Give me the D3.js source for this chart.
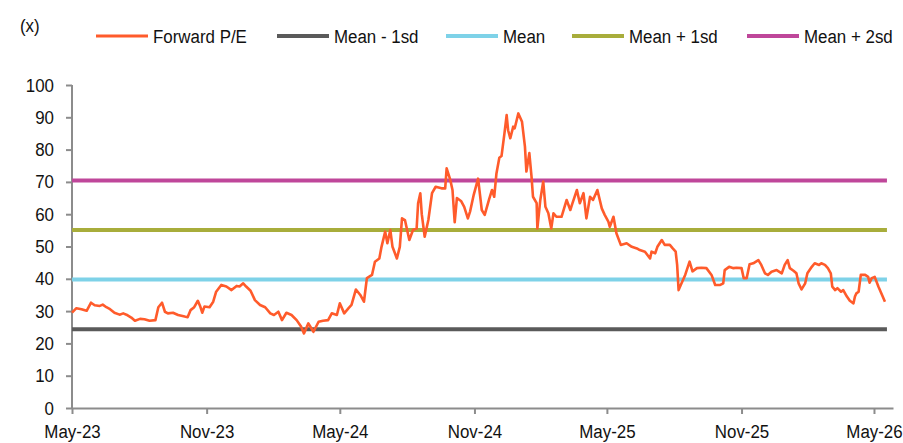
<!DOCTYPE html>
<html>
<head>
<meta charset="utf-8">
<script src="https://cdn.jsdelivr.net/npm/d3@7"></script>
<style>
  html, body { margin: 0; padding: 0; background: #fff; }
  svg { display: block; font-family: "Liberation Sans", Arial, sans-serif; }
</style>
</head>
<body>
<svg id="chart" width="903" height="443"></svg>
<script>
// Forward P/E history
const dates = [
  "2023-05-01","2023-05-07","2023-05-14","2023-05-21","2023-05-27","2023-06-01","2023-06-08","2023-06-12","2023-06-17","2023-06-22",
  "2023-06-28","2023-07-05","2023-07-10","2023-07-16","2023-07-21","2023-07-26","2023-08-02","2023-08-08","2023-08-15","2023-08-23",
  "2023-08-27","2023-09-01","2023-09-05","2023-09-09","2023-09-16","2023-09-23","2023-10-02","2023-10-06","2023-10-10","2023-10-15",
  "2023-10-20","2023-10-23","2023-10-26","2023-10-29","2023-11-05","2023-11-10","2023-11-14","2023-11-21","2023-11-28","2023-12-05",
  "2023-12-12","2023-12-16","2023-12-21","2023-12-25","2023-12-31","2024-01-06","2024-01-13","2024-01-20","2024-01-27","2024-02-01",
  "2024-02-07","2024-02-12","2024-02-18","2024-02-25","2024-03-03","2024-03-09","2024-03-13","2024-03-19","2024-03-26","2024-04-02",
  "2024-04-08","2024-04-15","2024-04-20","2024-04-27","2024-05-01","2024-05-07","2024-05-13","2024-05-17","2024-05-23","2024-05-29",
  "2024-06-03","2024-06-07","2024-06-14","2024-06-18","2024-06-24","2024-06-27","2024-07-02","2024-07-05","2024-07-09","2024-07-12",
  "2024-07-18","2024-07-22","2024-07-25","2024-07-29","2024-08-04","2024-08-09","2024-08-14","2024-08-16","2024-08-19","2024-08-21",
  "2024-08-25","2024-08-30","2024-09-04","2024-09-09","2024-09-17","2024-09-22","2024-09-24","2024-09-29","2024-10-02","2024-10-05",
  "2024-10-08","2024-10-14","2024-10-18","2024-10-23","2024-10-26","2024-10-31","2024-11-06","2024-11-11","2024-11-15","2024-11-21",
  "2024-11-25","2024-11-28","2024-12-01","2024-12-05","2024-12-08","2024-12-12","2024-12-15","2024-12-17","2024-12-20","2024-12-24",
  "2024-12-26","2024-12-31","2025-01-05","2025-01-09","2025-01-11","2025-01-15","2025-01-18","2025-01-20","2025-01-25","2025-01-26",
  "2025-01-30","2025-02-03","2025-02-06","2025-02-10","2025-02-14","2025-02-17","2025-02-21","2025-02-28","2025-03-07","2025-03-12",
  "2025-03-15","2025-03-21","2025-03-25","2025-03-30","2025-04-03","2025-04-08","2025-04-12","2025-04-18","2025-04-24","2025-04-28",
  "2025-05-03","2025-05-05","2025-05-10","2025-05-14","2025-05-20","2025-05-28","2025-06-04","2025-06-11","2025-06-15","2025-06-22",
  "2025-06-29","2025-07-01","2025-07-06","2025-07-09","2025-07-15","2025-07-19","2025-07-26","2025-07-30","2025-08-03","2025-08-05",
  "2025-08-07","2025-08-11","2025-08-16","2025-08-22","2025-08-26","2025-09-01","2025-09-07","2025-09-14","2025-09-21","2025-09-26",
  "2025-10-03","2025-10-07","2025-10-09","2025-10-15","2025-10-21","2025-10-25","2025-11-01","2025-11-04","2025-11-08","2025-11-12",
  "2025-11-17","2025-11-24","2025-11-28","2025-12-03","2025-12-07","2025-12-12","2025-12-19","2025-12-26","2025-12-30","2026-01-03",
  "2026-01-06","2026-01-11","2026-01-15","2026-01-18","2026-01-22","2026-01-27","2026-01-30","2026-02-05","2026-02-09","2026-02-15",
  "2026-02-18","2026-02-23","2026-02-27","2026-03-03","2026-03-05","2026-03-09","2026-03-12","2026-03-17","2026-03-20","2026-03-25",
  "2026-03-29","2026-04-03","2026-04-05","2026-04-07","2026-04-10","2026-04-13","2026-04-19","2026-04-23","2026-04-25","2026-04-28",
  "2026-05-02","2026-05-07","2026-05-11","2026-05-16"
];
const forwardPE = [
  29.5,30.9,30.6,30.1,32.6,31.8,31.6,32.0,31.2,30.6,
  29.5,28.9,29.3,28.7,28.0,27.0,27.6,27.5,27.0,27.2,
  31.2,32.6,29.8,29.3,29.5,28.8,28.3,28.1,30.3,31.2,
  33.2,31.6,29.5,31.4,31.2,32.9,36.0,38.1,37.6,36.5,
  37.8,37.6,38.6,37.6,36.3,33.4,31.9,31.2,29.3,28.8,
  29.8,27.2,29.5,28.8,27.2,25.2,23.1,26.2,23.6,26.7,
  27.0,27.2,29.3,28.8,32.4,29.3,30.9,31.9,36.7,35.0,
  32.9,40.2,41.2,45.3,46.3,49.9,54.6,51.0,55.1,49.9,
  46.3,49.9,58.7,58.2,52.0,55.1,55.6,63.4,66.5,60.0,
  53.0,58.2,66.5,68.5,68.0,68.0,74.2,70.6,67.5,57.5,
  65.0,64.0,62.3,58.7,60.8,66.0,71.0,61.3,59.8,64.6,
  67.5,65.4,72.5,77.5,78.0,85.0,90.7,86.0,83.5,87.1,
  86.6,91.2,88.6,80.9,73.2,78.9,71.6,65.4,63.4,55.6,
  64.4,70.1,62.3,60.3,55.6,60.3,59.2,59.2,64.4,61.3,
  63.4,67.5,63.4,66.5,58.7,65.4,64.4,67.5,61.8,59.8,
  57.7,56.1,59.2,54.1,50.5,51.0,49.9,49.4,48.9,48.4,
  46.3,48.4,47.9,49.9,52.0,50.5,50.5,49.4,48.4,44.3,
  36.5,38.6,41.2,45.3,42.3,43.3,43.4,43.3,41.2,38.1,
  38.1,38.6,42.7,43.7,43.3,43.4,43.3,40.2,40.2,44.5,
  44.8,45.8,44.3,41.7,41.2,42.2,42.7,41.7,44.3,45.8,
  43.3,42.5,41.7,38.6,36.7,38.6,41.7,43.7,44.8,44.3,
  44.8,44.3,43.3,41.7,37.6,36.5,37.1,36.0,36.5,34.5,
  33.2,32.4,34.5,35.5,36.0,41.2,41.2,40.6,38.8,40.2,
  40.6,37.6,35.5,32.9
];

// Valuation bands
const bandNames  = ["Mean - 1sd", "Mean", "Mean + 1sd", "Mean + 2sd"];
const bandValues = [24.4, 39.8, 55.1, 70.4];

const yTicks = [0, 10, 20, 30, 40, 50, 60, 70, 80, 90, 100];
const xTicks = ["2023-05-01", "2023-11-01", "2024-05-01", "2024-11-01", "2025-05-01", "2025-11-01", "2026-05-01"];

const seriesColor = "#FF5B2B";
const bandColors = ["#5A5A5A", "#7ED2E8", "#A8AD3B", "#BF479A"];
const axisColor = "#8C8C8C";
const SQUEEZE = 0.89;     // narrow the type horizontally
const FONT = 19;

const parse = d3.utcParse("%Y-%m-%d");
const pts = dates.map((d, i) => ({ date: parse(d), v: forwardPE[i] }));

const svg = d3.select("#chart");

const x = d3.scaleUtc()
  .domain([parse("2023-05-01"), parse("2026-05-27")])
  .range([72, 893]);
const y = d3.scaleLinear().domain([0, 100]).range([408, 85]);

function squeeze(sel) {
  sel.each(function () {
    const t = d3.select(this);
    const xv = +(t.attr("x") || 0);
    t.attr("x", xv / SQUEEZE).attr("transform", `scale(${SQUEEZE},1)`);
  });
}

// Axes
const yAxis = svg.append("g")
  .attr("transform", `translate(${x.range()[0]},0)`)
  .call(d3.axisLeft(y).tickValues(yTicks).tickSize(6).tickPadding(12).tickSizeOuter(0));
const xAxis = svg.append("g")
  .attr("transform", `translate(0,${y(0)})`)
  .call(d3.axisBottom(x).tickValues(xTicks.map(parse)).tickFormat(d3.utcFormat("%b-%y"))
    .tickSize(6).tickPadding(11).tickSizeOuter(0));

[yAxis, xAxis].forEach(g => {
  g.select(".domain").attr("stroke", axisColor).attr("stroke-width", 2);
  g.selectAll(".tick line").attr("stroke", axisColor).attr("stroke-width", 2);
  g.selectAll(".tick text").attr("fill", "#111").attr("font-size", FONT)
    .attr("font-family", "'Liberation Sans', Arial, sans-serif");
  squeeze(g.selectAll(".tick text"));
});
yAxis.select(".domain").attr("d", `M0,${y(0)}V${y(100)}`);

// Band lines across the history
const x0 = x(pts[0].date), x1 = x(pts[pts.length - 1].date) + 2;
svg.append("g").selectAll("line")
  .data(bandValues)
  .join("line")
  .attr("x1", x0).attr("x2", x1)
  .attr("y1", d => y(d)).attr("y2", d => y(d))
  .attr("stroke", (d, i) => bandColors[i])
  .attr("stroke-width", 4);

// Forward P/E line
svg.append("path")
  .datum(pts)
  .attr("fill", "none")
  .attr("stroke", seriesColor)
  .attr("stroke-width", 2.6)
  .attr("stroke-linejoin", "round")
  .attr("d", d3.line().x(d => x(d.date)).y(d => y(d.v)));

// Unit label
const unit = svg.append("text").attr("x", 20).attr("y", 32)
  .attr("font-size", FONT).attr("fill", "#111").text("(x)");
squeeze(unit);

// Legend
const legendItems = [
  { name: "Forward P/E", color: seriesColor, width: 3, x: 96 },
  { name: bandNames[0], color: bandColors[0], width: 4, x: 277 },
  { name: bandNames[1], color: bandColors[1], width: 4, x: 446 },
  { name: bandNames[2], color: bandColors[2], width: 4, x: 572 },
  { name: bandNames[3], color: bandColors[3], width: 4, x: 747 }
];
const lg = svg.append("g").selectAll("g").data(legendItems).join("g")
  .attr("transform", d => `translate(${d.x},36)`);
lg.append("line").attr("x1", 0).attr("x2", 52).attr("y1", 0).attr("y2", 0)
  .attr("stroke", d => d.color).attr("stroke-width", d => d.width);
const lt = lg.append("text").attr("x", 57).attr("y", 7)
  .attr("font-size", FONT).attr("fill", "#111").text(d => d.name);
squeeze(lt);
</script>
</body>
</html>
